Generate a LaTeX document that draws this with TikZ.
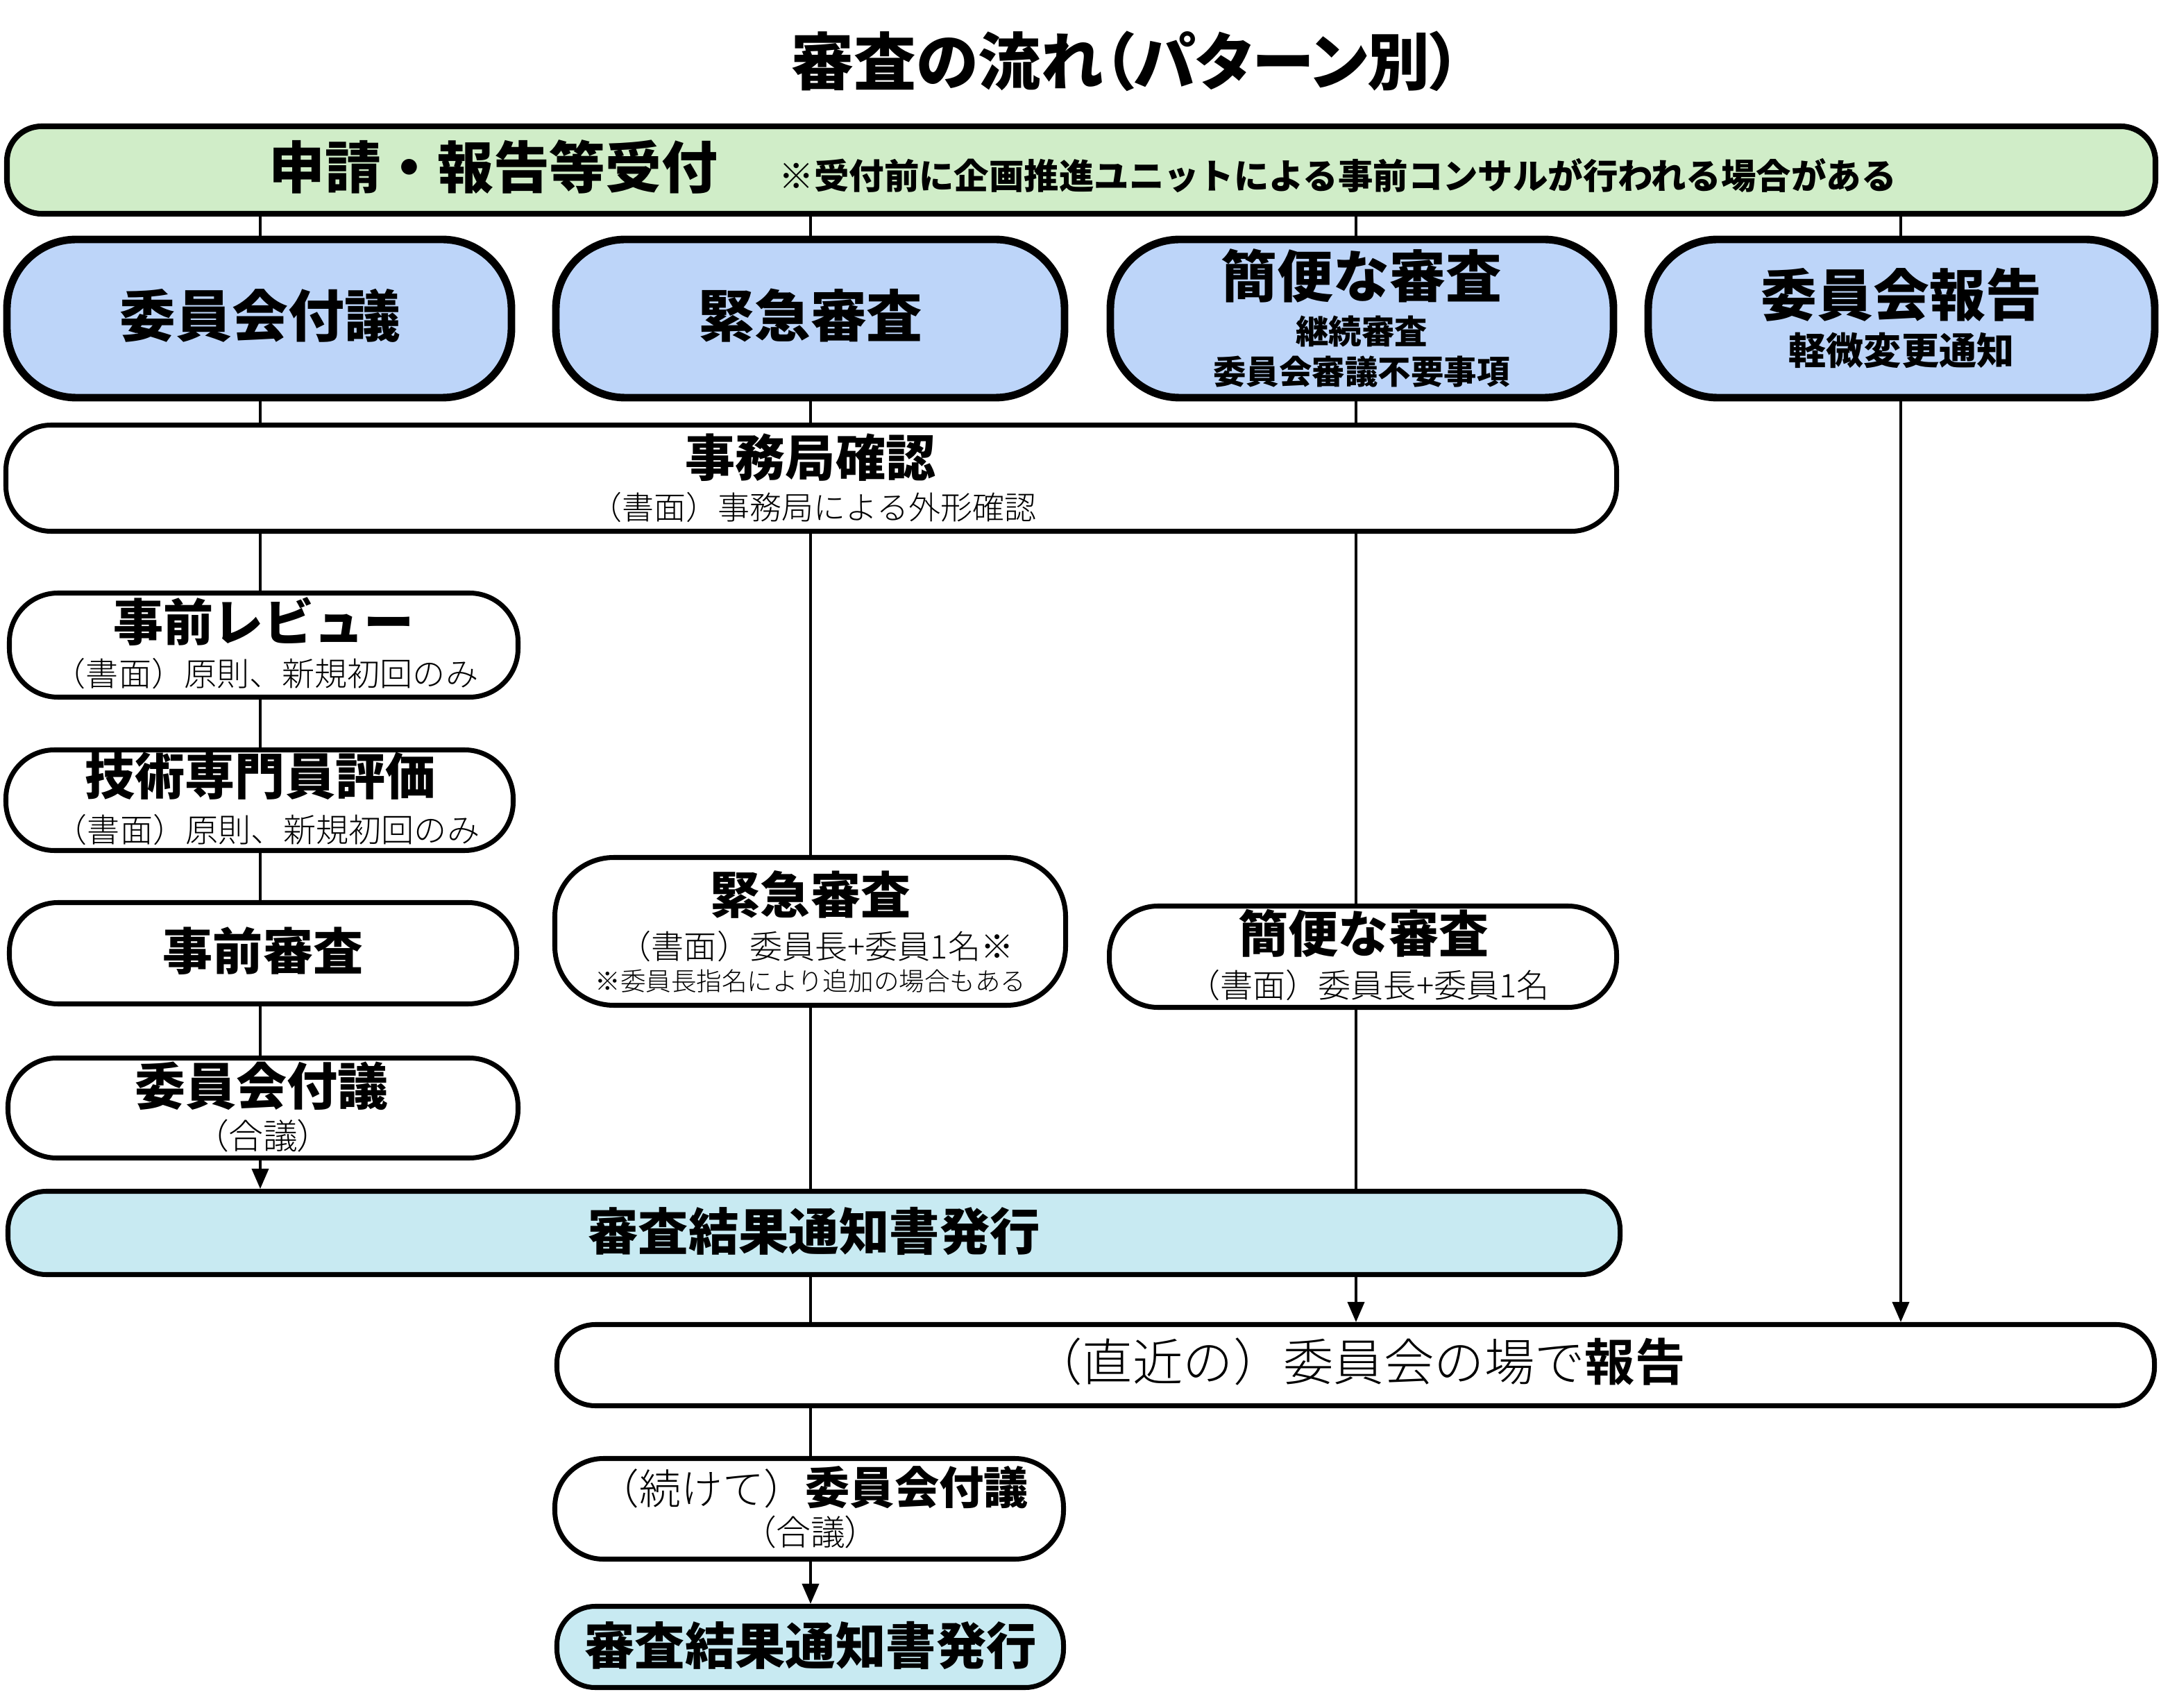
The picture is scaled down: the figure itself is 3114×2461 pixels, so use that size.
\documentclass[tikz,border=0pt]{standalone}
\usepackage{fontspec}
\setmainfont{Noto Sans CJK JP}
\newfontfamily\jpp{Noto Sans CJK JP}[CharacterWidth=AlternateProportional]
\IfFontExistsTF{Noto Sans CJK JP Light}
  {\newfontfamily\jpl{Noto Sans CJK JP Light}\newfontfamily\jplp{Noto Sans CJK JP Light}[CharacterWidth=AlternateProportional]}
  {\newfontfamily\jpl{Noto Sans CJK JP}\newfontfamily\jplp{Noto Sans CJK JP}[CharacterWidth=AlternateProportional]}
\usetikzlibrary{arrows.meta,fit,backgrounds}
\newcommand\fsz[1]{\fontsize{#1pt}{#1pt}\selectfont}
\definecolor{gfill}{RGB}{208,237,200}
\definecolor{bfill}{RGB}{189,213,249}
\definecolor{cfill}{RGB}{200,234,242}
\begin{document}
\begin{tikzpicture}[x=0.1mm,y=-0.1mm,
  bx/.style={draw, line width=2pt, rounded corners=7mm, inner sep=0pt, fill=white},
  gbox/.style={bx, fill=gfill, line width=2.3pt, rounded corners=5mm},
  bbox/.style={bx, fill=bfill, line width=3.1pt, rounded corners=10mm},
  cbox/.style={bx, fill=cfill, rounded corners=5.5mm},
  txt/.style={inner sep=0pt, anchor=center},
  link/.style={line width=1.1pt},
  arr/.style={link, -{Triangle[length=2.9mm,width=2.4mm]}}]
\useasboundingbox (0,0) rectangle (3114,2461);

% title
\node[txt] (title) at (1623,88) {\jpp\bfseries\fsz{25.6}審査の流れ（パターン別）};

% reception
\node[gbox, fit={(10,182) (3106,308)}] (g) {};
\node[txt] (gt) at (711,240) {\bfseries\fsz{23}申請・報告等受付};
\node[txt, anchor=west] (gn) at (1122,253) {\bfseries\fsz{14.35}※受付前に企画推進ユニットによる事前コンサルが行われる場合がある};

% pattern boxes
\node[bbox, fit={(10,345) (737,573)}] (b1) {};
\node[bbox, fit={(801,345) (1534,573)}] (b2) {};
\node[bbox, fit={(1600,345) (2325,573)}] (b3) {};
\node[bbox, fit={(2375,345) (3105,573)}] (b4) {};
\node[txt] (b1t) at (375,455) {\bfseries\fsz{23}委員会付議};
\node[txt] (b2t) at (1168,455) {\bfseries\fsz{23}緊急審査};
\node[txt] (b3t) at (1962,397) {\bfseries\fsz{23}簡便な審査};
\node[txt] (b3s) at (1962,477) {\bfseries\fsz{13.5}継続審査};
\node[txt] (b3u) at (1962,536) {\bfseries\fsz{13.5}委員会審議不要事項};
\node[txt] (b4t) at (2740,425) {\bfseries\fsz{23}委員会報告};
\node[txt] (b4s) at (2740,505) {\bfseries\fsz{15.4}軽微変更通知};

% secretariat check
\node[bx, rounded corners=6.5mm, fit={(8.5,612.5) (2329.5,765.5)}] (jimu) {};
\node[txt] (jimut) at (1168,659) {\bfseries\fsz{20.5}事務局確認};
\node[txt] (jimus) at (1172,731) {\jpl\fsz{13.1}（書面）事務局による外形確認};

% column 1
\node[bx, fit={(13.5,854.5) (746.5,1004.5)}] (rev) {};
\node[txt] (revt) at (380,896) {\bfseries\fsz{20.5}事前レビュー};
\node[txt] (revs) at (383,971) {\jpl\fsz{13.4}（書面）原則、新規初回のみ};
\node[bx, fit={(8.5,1080.5) (739.5,1225.5)}] (gij) {};
\node[txt] (gijt) at (375,1118) {\bfseries\fsz{20.5}技術専門員評価};
\node[txt] (gijs) at (385,1196) {\jpl\fsz{13.4}（書面）原則、新規初回のみ};
\node[bx, fit={(13.5,1300.5) (744.5,1446.5)}] (jiz) {};
\node[txt] (jizt) at (379,1370) {\bfseries\fsz{20.5}事前審査};
\node[bx, fit={(11.5,1524.5) (746.5,1668.5)}] (fugi) {};
\node[txt] (fugit) at (377,1565) {\bfseries\fsz{20.8}委員会付議};
\node[txt] (fugis) at (379,1637) {\jplp\fsz{14.2}（合議）};

% column 2
\node[bx, rounded corners=8.5mm, fit={(799.5,1235.5) (1535.5,1448.5)}] (kin) {};
\node[txt] (kint) at (1168,1289) {\bfseries\fsz{20.5}緊急審査};
\node[txt] (kins) at (1176,1364) {\jpl\fsz{13.4}（書面）委員長+委員1名※};
\node[txt] (kinn) at (1168,1414) {\jpl\fsz{10.4}※委員長指名により追加の場合もある};

% column 3
\node[bx, fit={(1598.5,1305.5) (2329.5,1451.5)}] (kan) {};
\node[txt] (kant) at (1965,1345) {\bfseries\fsz{20.5}簡便な審査};
\node[txt] (kans) at (1972,1420) {\jpl\fsz{13.4}（書面）委員長+委員1名};

% results
\node[cbox, fit={(11.5,1716.5) (2334.5,1836.5)}] (kek1) {};
\node[txt] (kek1t) at (1173,1774) {\bfseries\fsz{20.6}審査結果通知書発行};
\node[bx, rounded corners=5.5mm, fit={(802.5,1908.5) (3104.5,2025.5)}] (hou) {};
\node[txt] (hout) at (1958,1962) {\jpl\fsz{20.6}（直近の）委員会の場で{\bfseries 報告}};
\node[bx, fit={(799.5,2101.5) (1532.5,2246.5)}] (tsu) {};
\node[txt] (tsut) at (1172,2143) {\jpl\fsz{17}（続けて）{\rmfamily\bfseries\fsz{18.3}委員会付議}};
\node[txt] (tsus) at (1168,2208) {\jplp\fsz{14.2}（合議）};
\node[cbox, fit={(802.5,2314.5) (1532.5,2431.5)}] (kek2) {};
\node[txt] (kek2t) at (1168,2371) {\bfseries\fsz{20.6}審査結果通知書発行};

% columns
\coordinate (c1) at (375,0);
\coordinate (c2) at (1168,0);
\coordinate (c3) at (1954,0);
\coordinate (c4) at (2739,0);

\begin{scope}[on background layer]
\draw[link] (g.south -| c1) -- (b1.north -| c1);
\draw[link] (b1.south -| c1) -- (jimu.north -| c1);
\draw[link] (jimu.south -| c1) -- (rev.north -| c1);
\draw[link] (rev.south -| c1) -- (gij.north -| c1);
\draw[link] (gij.south -| c1) -- (jiz.north -| c1);
\draw[link] (jiz.south -| c1) -- (fugi.north -| c1);
\draw[arr] (fugi.south -| c1) -- (kek1.north -| c1);

\draw[link] (g.south -| c2) -- (b2.north -| c2);
\draw[link] (b2.south -| c2) -- (jimu.north -| c2);
\draw[link] (jimu.south -| c2) -- (kin.north -| c2);
\draw[link] (kin.south -| c2) -- (kek1.north -| c2);
\draw[link] (kek1.south -| c2) -- (hou.north -| c2);
\draw[link] (hou.south -| c2) -- (tsu.north -| c2);
\draw[arr] (tsu.south -| c2) -- (kek2.north -| c2);

\draw[link] (g.south -| c3) -- (b3.north -| c3);
\draw[link] (b3.south -| c3) -- (jimu.north -| c3);
\draw[link] (jimu.south -| c3) -- (kan.north -| c3);
\draw[arr] (kan.south -| c3) -- (hou.north -| c3);

\draw[link] (g.south -| c4) -- (b4.north -| c4);
\draw[arr] (b4.south -| c4) -- (hou.north -| c4);
\end{scope}
\end{tikzpicture}
\end{document}
